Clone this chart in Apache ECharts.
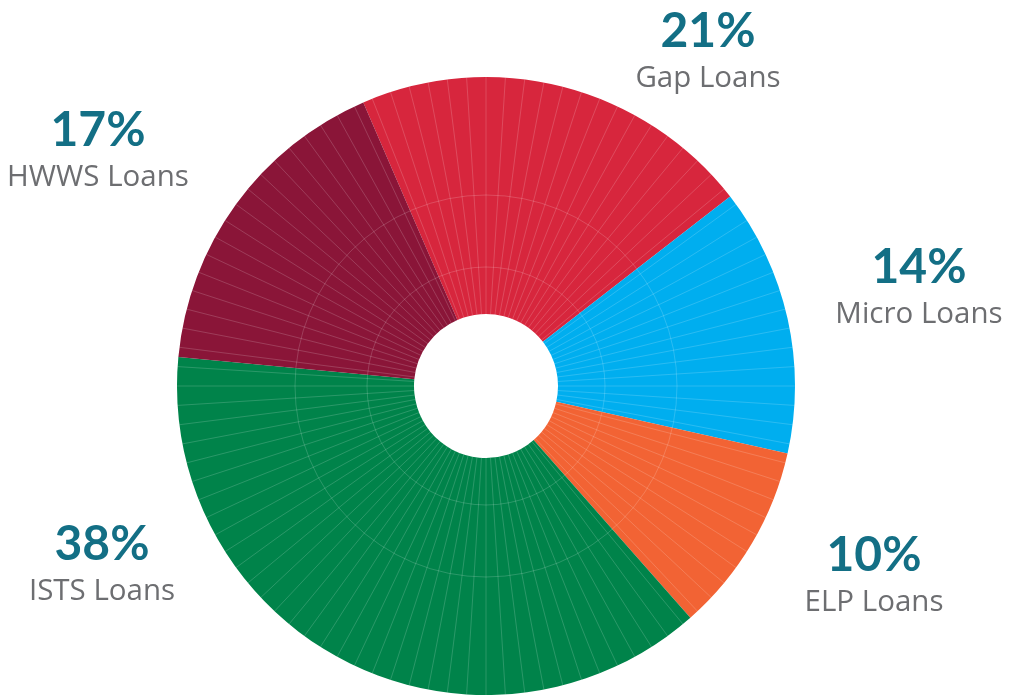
<!DOCTYPE html>
<html>
<head>
<meta charset="utf-8">
<style>
  html, body { margin: 0; padding: 0; background: #fff; }
  #chart { width: 1015px; height: 697px; }
</style>
<script src="https://cdn.jsdelivr.net/npm/echarts@6/dist/echarts.min.js"></script>
</head>
<body>
<div id="chart"></div>
<script>
// ---- data ----
const loanNames = ['Gap Loans', 'Micro Loans', 'ELP Loans', 'ISTS Loans', 'HWWS Loans'];
const loanShares = [21, 14, 10, 38, 17];
const sliceColors = ['#d7263d', '#00aeef', '#f26334', '#00834a', '#8a1538'];

// label block centres (px), same order as loanNames
const labelPos = [[708, 55], [919, 291], [874, 579], [102, 568], [98, 154]];

const chart = echarts.init(document.getElementById('chart'));
const center = [486, 386];
const faint = 'rgba(255,255,255,0.17)';
const hidden = { show: false };

const pieData = loanNames.map((n, i) => ({
    name: n, value: loanShares[i], itemStyle: { color: sliceColors[i] }
}));

// one polar for the radial texture, two more just for the faint rings
const ringRadii = [119, 191];
const polars = [{ center: center, radius: [72, 309] }]
    .concat(ringRadii.map(r => ({ center: center, radius: [0, r] })));

const angleAxes = polars.map((p, i) => ({
    polarIndex: i, type: 'value', min: 0, max: 360, interval: 3.6, z: 10,
    axisLine: hidden, axisTick: hidden, axisLabel: hidden,
    splitLine: { show: i === 0, lineStyle: { color: faint, width: 1 } }
}));
const radiusAxes = polars.map((p, i) => ({
    polarIndex: i, type: 'value', min: 0, max: 1, interval: 1, z: 10,
    axisLine: hidden, axisTick: hidden, axisLabel: hidden,
    splitLine: { show: i > 0, lineStyle: { color: faint, width: 1 } }
}));

chart.setOption({
    animation: false,
    polar: polars,
    angleAxis: angleAxes,
    radiusAxis: radiusAxes,
    series: [{
        type: 'pie',
        center: center,
        radius: [72, 309],
        startAngle: 113.4,
        clockwise: true,
        z: 1,
        itemStyle: { borderWidth: 0 },
        labelLine: { show: false },
        emphasis: { disabled: true },
        data: pieData,
        label: {
            show: true,
            position: 'outside',
            overflow: 'none',
            formatter: p => '{p|' + p.value + '%}\n{n|' + p.name + '}',
            rich: {
                p: { fontFamily: 'Lato', fontWeight: 'bold', fontSize: 48, color: '#136f85', lineHeight: 48, align: 'center' },
                n: { fontFamily: 'Open Sans', fontSize: 29.5, color: '#6d6e71', lineHeight: 47, align: 'center' }
            }
        },
        labelLayout: p => ({
            x: labelPos[p.dataIndex][0],
            y: labelPos[p.dataIndex][1],
            align: 'center',
            verticalAlign: 'middle'
        })
    }]
});
</script>
</body>
</html>
